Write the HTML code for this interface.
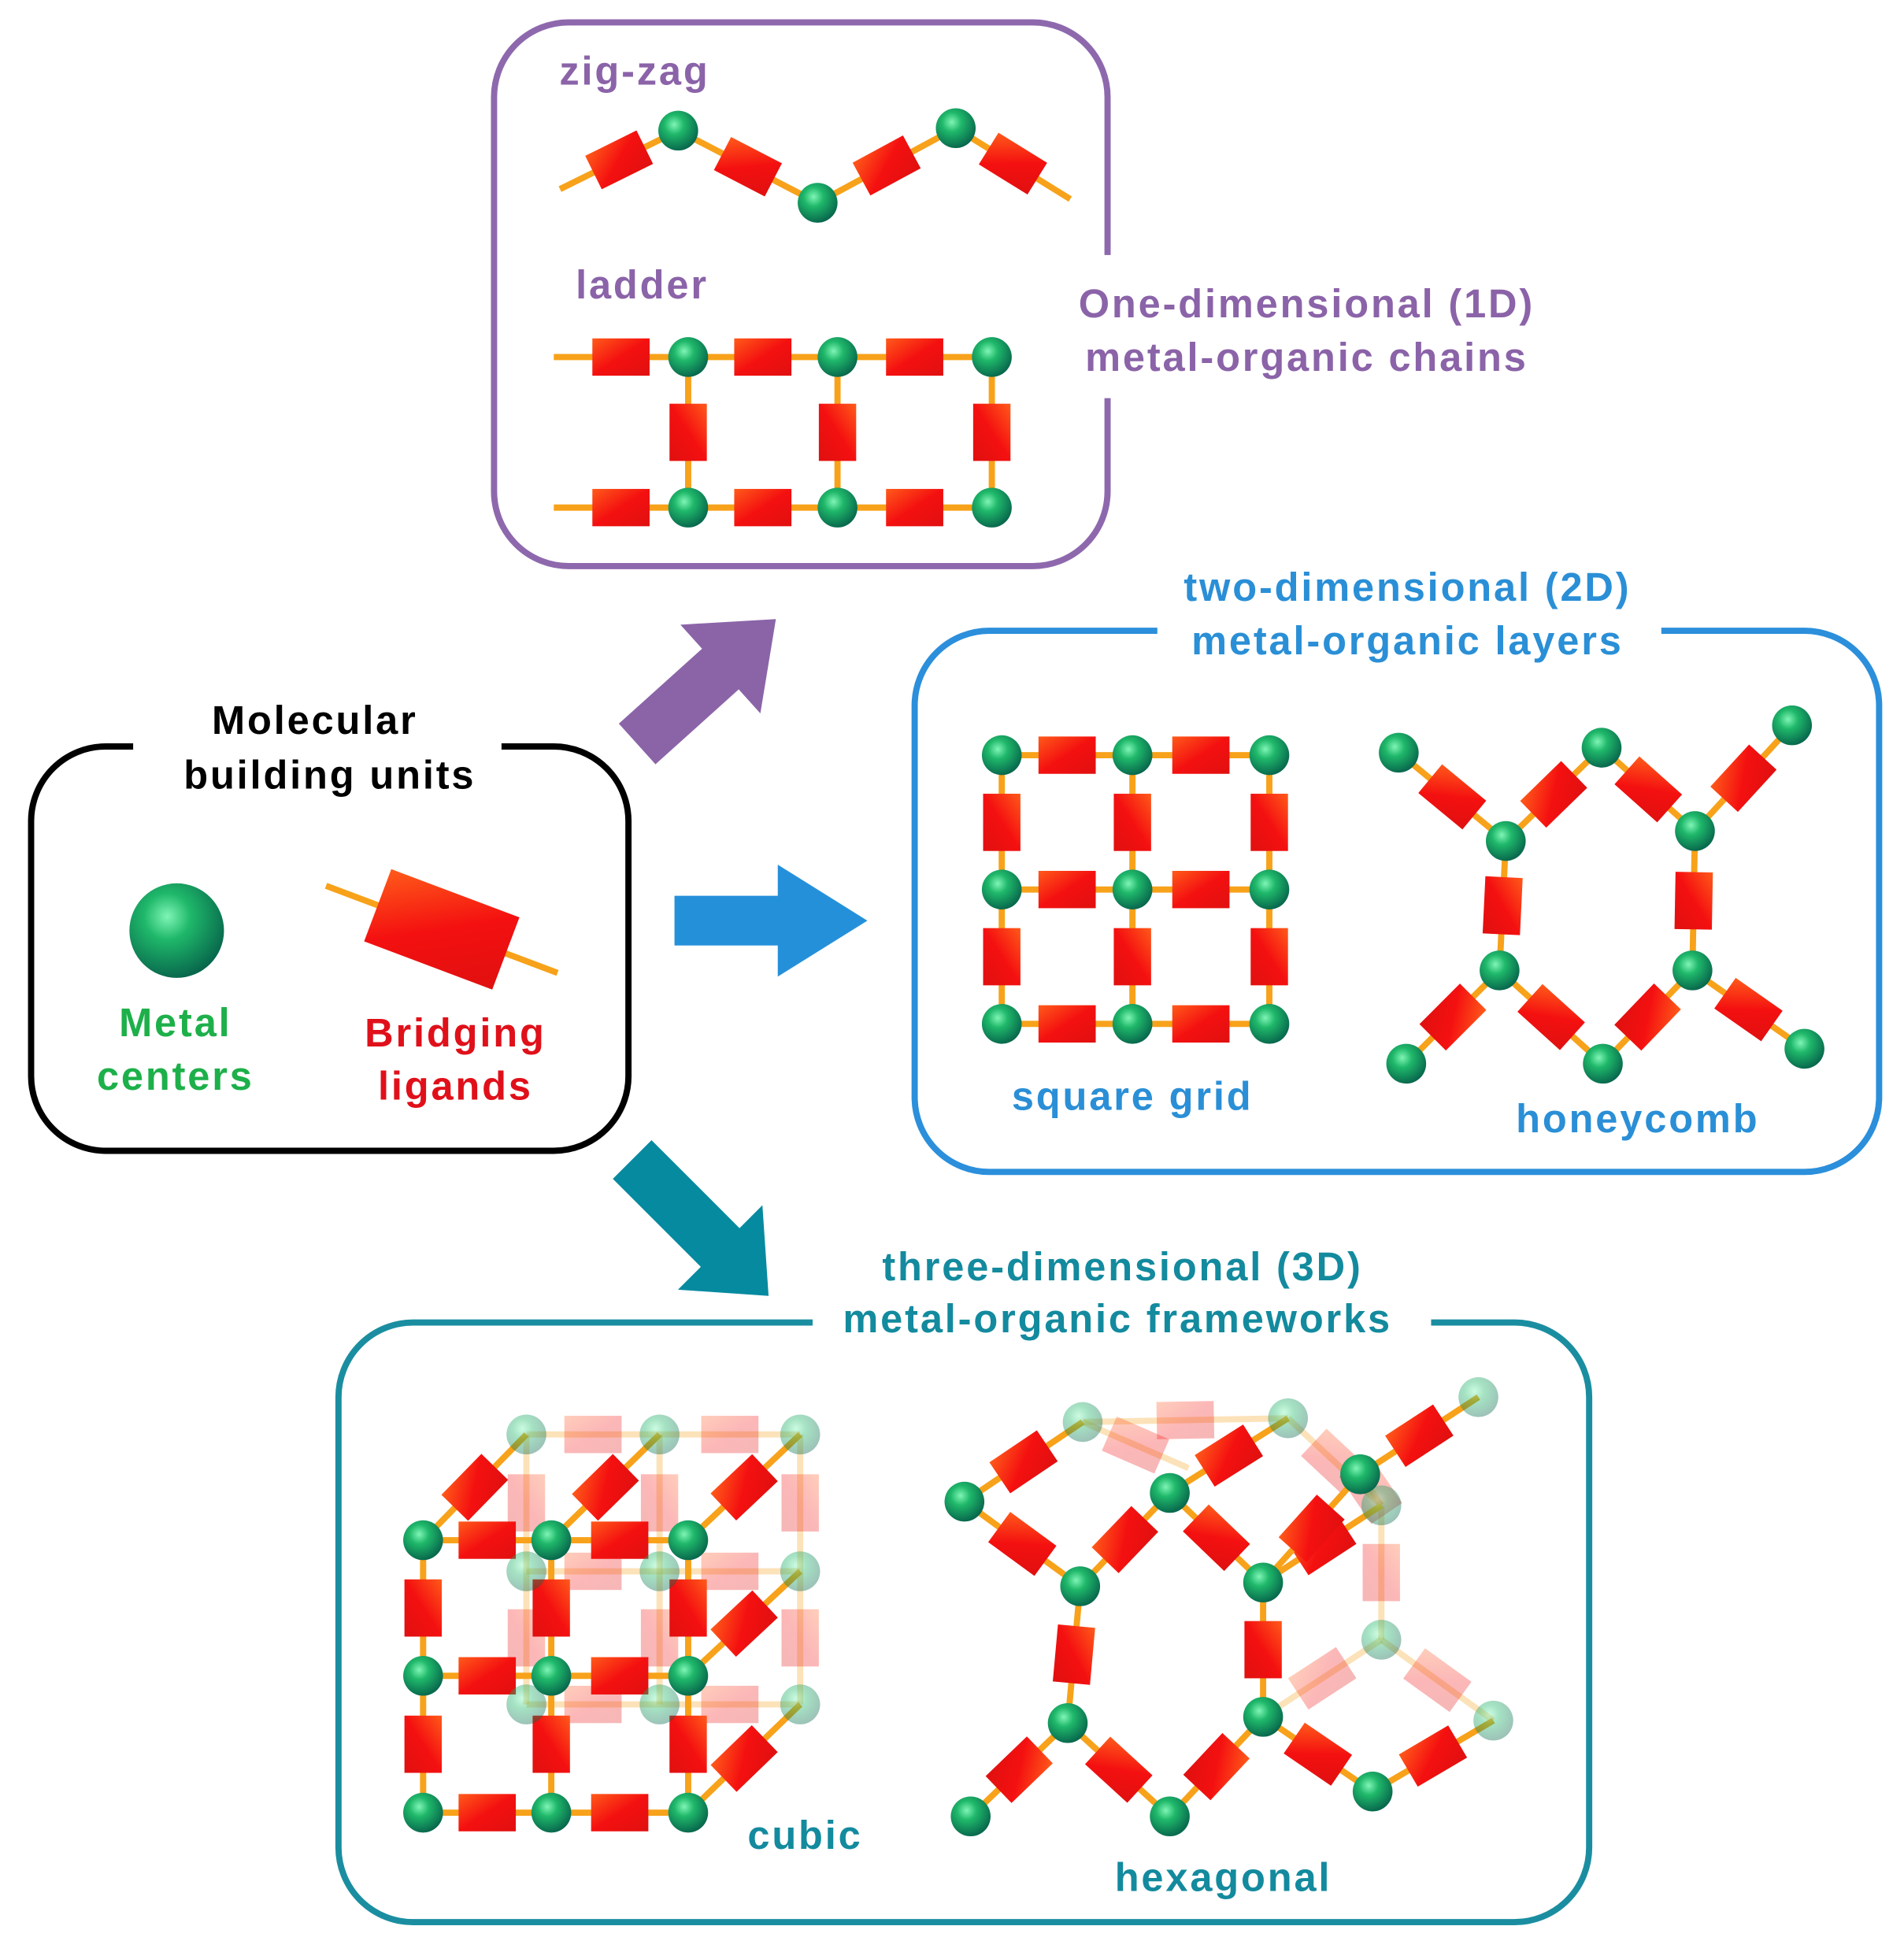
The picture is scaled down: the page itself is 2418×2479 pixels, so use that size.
<!DOCTYPE html>
<html><head><meta charset="utf-8"><style>
html,body{margin:0;padding:0;background:#fff;}
svg{display:block;}
text{font-family:"Liberation Sans",Arial,sans-serif;font-weight:bold;font-size:32px;letter-spacing:1.8px;text-anchor:middle;}
</style></head><body>
<svg id="s" width="2418" height="2479" viewBox="0 0 1530 1569" preserveAspectRatio="none" xmlns="http://www.w3.org/2000/svg">
<defs>
<radialGradient id="gb" cx="0.4" cy="0.35" r="0.7">
<stop offset="0" stop-color="#7ff5b5"/><stop offset="0.35" stop-color="#1fb86a"/><stop offset="1" stop-color="#06604a"/>
</radialGradient>
<linearGradient id="gr" x1="0" y1="0" x2="1" y2="1">
<stop offset="0" stop-color="#ff5a1a"/><stop offset="0.5" stop-color="#f41010"/><stop offset="1" stop-color="#e01010"/>
</linearGradient>
</defs>
<g fill="none" stroke-width="5">
<path d="M890,205 V78 A60,60 0 0 0 830,18 H457 A60,60 0 0 0 397,78 V395 A60,60 0 0 0 457,455 H830 A60,60 0 0 0 890,395 V320" stroke="#8e68ad"/>
<path d="M403,600 H445 A60,60 0 0 1 505,660 V865 A60,60 0 0 1 445,925 H85 A60,60 0 0 1 25,865 V660 A60,60 0 0 1 85,600 H107" stroke="#000"/>
<path d="M1335,507 H1450 A60,60 0 0 1 1510,567 V882 A60,60 0 0 1 1450,942 H795 A60,60 0 0 1 735,882 V567 A60,60 0 0 1 795,507 H930" stroke="#2b8fdb"/>
<path d="M1150,1063 H1217 A60,60 0 0 1 1277,1123 V1485 A60,60 0 0 1 1217,1545 H332 A60,60 0 0 1 272,1485 V1123 A60,60 0 0 1 332,1063 H653" stroke="#1a8ea0"/>
</g>
<g transform="translate(512,598) rotate(-42)"><polygon points="0,-22 90,-22 90,-48 150,0 90,48 90,22 0,22" fill="#8b64a8"/></g>
<polygon points="542,720 625,720 625,695 697,740 625,785 625,760 542,760" fill="#2590da"/>
<g transform="translate(508,932) rotate(45)"><polygon points="0,-22 100,-22 100,-48 155,0 100,48 100,22 0,22" fill="#068aa0"/></g>
<g id="mol"></g>
<text x="510" y="68" fill="#8b63a8">zig-zag</text>
<text x="516" y="240" fill="#8b63a8">ladder</text>
<text x="1050" y="255" fill="#8b63a8">One-dimensional (1D)</text>
<text x="1050" y="298" fill="#8b63a8">metal-organic chains</text>
<text x="253" y="590" fill="#000">Molecular</text>
<text x="265" y="634" fill="#000">building units</text>
<text x="141" y="833" fill="#1db04a">Metal</text>
<text x="141" y="876" fill="#1db04a">centers</text>
<text x="366" y="841" fill="#e0101a">Bridging</text>
<text x="366" y="884" fill="#e0101a">ligands</text>
<text x="1131" y="483" fill="#2a8fd6">two-dimensional (2D)</text>
<text x="1131" y="526" fill="#2a8fd6">metal-organic layers</text>
<text x="910" y="892" fill="#2a8fd6">square grid</text>
<text x="1316" y="910" fill="#2a8fd6">honeycomb</text>
<text x="902" y="1029" fill="#138a9e">three-dimensional (3D)</text>
<text x="898" y="1071" fill="#138a9e">metal-organic frameworks</text>
<text x="647" y="1486" fill="#138a9e">cubic</text>
<text x="983" y="1520" fill="#138a9e">hexagonal</text>
</svg>
<script>
var g=document.getElementById('mol'),NS='http://www.w3.org/2000/svg',L=[],B=[];
function el(t,a){var e=document.createElementNS(NS,t);for(var k in a)e.setAttribute(k,a[k]);return e;}
function E(a,b,o,w,h){L.push([a,b,o||1,w||46,h||30]);}
function P(p,o,r){B.push([p,o||1,r||16]);}
function drawAll(){
L.forEach(function(l){var a=l[0],b=l[1],o=l[2];var mx=(a[0]+b[0])/2,my=(a[1]+b[1])/2,ang=Math.atan2(b[1]-a[1],b[0]-a[0])*180/Math.PI;
g.appendChild(el('line',{x1:a[0],y1:a[1],x2:b[0],y2:b[1],stroke:'#f7a21a','stroke-width':5,opacity:o}));
g.appendChild(el('rect',{x:mx-l[3]/2,y:my-l[4]/2,width:l[3],height:l[4],fill:'url(#gr)',opacity:o,transform:'rotate('+ang+' '+mx+' '+my+')'}));});
B.forEach(function(b){g.appendChild(el('circle',{cx:b[0][0],cy:b[0][1],r:b[2],fill:'url(#gb)',opacity:b[1]}));});}
var z=[[450,152],[545,105],[657,163],[768,103],[860,160]];
for(var i=0;i<4;i++)E(z[i],z[i+1]);P(z[1]);P(z[2]);P(z[3]);
var lx=[553,673,797];
[[287],[408]].forEach(function(r){var y=r[0];E([445,y],[lx[0],y]);E([lx[0],y],[lx[1],y]);E([lx[1],y],[lx[2],y]);lx.forEach(function(x){P([x,y]);});});
lx.forEach(function(x){E([x,287],[x,408]);});
P([142,748],1,38);
L.push([[262,712],[448,782],1,110,62]);
var sx=[805,910,1020],sy=[607,715,823];
sy.forEach(function(y){E([sx[0],y],[sx[1],y]);E([sx[1],y],[sx[2],y]);});
sx.forEach(function(x){E([x,sy[0]],[x,sy[1]]);E([x,sy[1]],[x,sy[2]]);});
sx.forEach(function(x){sy.forEach(function(y){P([x,y]);});});
var h={a:[1124,605],b:[1210,676],c:[1287,601],d:[1362,668],e:[1440,583],f:[1205,780],g:[1360,780],i:[1130,855],j:[1288,855],k:[1450,843]};
[['a','b'],['b','c'],['c','d'],['d','e'],['b','f'],['d','g'],['f','i'],['f','j'],['g','j'],['g','k']].forEach(function(p){E(h[p[0]],h[p[1]]);});
for(var k in h)P(h[k]);
var bx=[423,530,643],by=[1153,1263,1370];
var fx=[340,443,553],fy=[1238,1347,1457];
by.forEach(function(y){E([bx[0],y],[bx[1],y],0.3);E([bx[1],y],[bx[2],y],0.3);});
bx.forEach(function(x){E([x,by[0]],[x,by[1]],0.3);E([x,by[1]],[x,by[2]],0.3);});
bx.forEach(function(x){by.forEach(function(y){P([x,y],0.4);});});
for(var i=0;i<3;i++)for(var j=0;j<3;j++){if(i==0||j==2)E([fx[j],fy[i]],[bx[j],by[i]],1);}
fy.forEach(function(y){E([fx[0],y],[fx[1],y]);E([fx[1],y],[fx[2],y]);});
fx.forEach(function(x){E([x,fy[0]],[x,fy[1]]);E([x,fy[1]],[x,fy[2]]);});
fx.forEach(function(x){fy.forEach(function(y){P([x,y]);});});
var q={a:[775,1207],b:[868,1275],c:[940,1200],d:[1015,1272],e:[1093,1185],f:[858,1385],g:[1015,1380],i:[780,1460],j:[940,1460],k:[1103,1440]};
var r={a:[870,1143],c:[1035,1140],e:[1188,1123],d:[1110,1210],g:[1110,1318],k:[1200,1383]};
[['a','c'],['c','d'],['d','g'],['g','k']].forEach(function(p){E(r[p[0]],r[p[1]],0.3);});
E(q.a,r.a,1);E(r.a,[955,1180],0.3);E(q.c,r.c,1);E(q.e,r.e,1);E(q.e,r.d,0.3);E(q.d,r.d,1);E(q.k,r.k,1);E(q.g,r.g,0.3);
[['a','b'],['b','c'],['c','d'],['d','e'],['b','f'],['d','g'],['f','i'],['f','j'],['g','j'],['g','k']].forEach(function(p){E(q[p[0]],q[p[1]]);});
for(var k in r)P(r[k],0.4);
for(var k in q)P(q[k]);
drawAll();
</script>
</body></html>
